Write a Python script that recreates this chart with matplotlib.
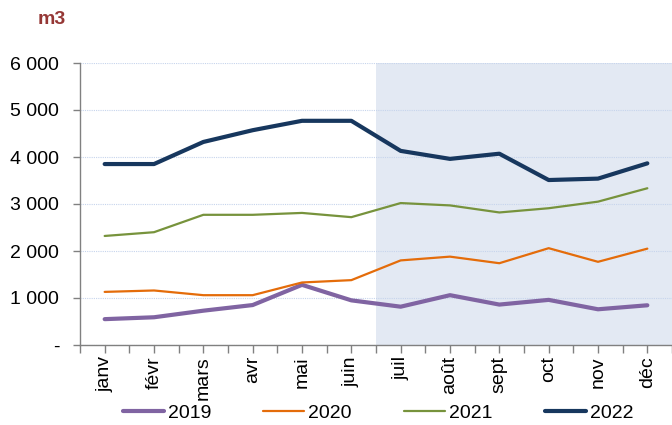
import matplotlib
matplotlib.use("Agg")
import matplotlib.pyplot as plt
from matplotlib.ticker import FixedLocator, FuncFormatter

months = ["janv", "févr", "mars", "avr", "mai", "juin", "juil", "août", "sept", "oct", "nov", "déc"]
years = ["2019", "2020", "2021", "2022"]
v2019 = [550, 590, 730, 850, 1280, 950, 815, 1060, 860, 960, 760, 845]
v2020 = [1130, 1160, 1060, 1060, 1330, 1380, 1800, 1880, 1740, 2060, 1770, 2050]
v2021 = [2320, 2400, 2770, 2770, 2810, 2720, 3020, 2970, 2820, 2910, 3050, 3335]
v2022 = [3850, 3850, 4320, 4570, 4770, 4770, 4130, 3960, 4070, 3510, 3540, 3865]
series = [v2019, v2020, v2021, v2022]
colors = ["#8064A2", "#E46C0A", "#77933C", "#17375E"]
widths = [3.0, 1.6, 1.6, 3.0]
yticks = [0, 1000, 2000, 3000, 4000, 5000, 6000]

plt.rcParams["font.family"] = ["Liberation Sans", "DejaVu Sans"]

fig = plt.figure(figsize=(6.72, 4.25), dpi=100)
ax = fig.add_axes([80 / 672, 1 - 345 / 425, 1 - 80 / 672, (345 - 63) / 425])

x = list(range(len(months)))
ax.axvspan(5.5, 11.5, color="#E3E9F3", zorder=0, lw=0)
for vals, c, w, lab in zip(series, colors, widths, years):
    ax.plot(x, vals, color=c, lw=w, label=lab, solid_capstyle="round", solid_joinstyle="round", zorder=3)

ax.set_xlim(-0.5, 11.5)
ax.set_ylim(0, 6000)
ax.yaxis.set_major_locator(FixedLocator(yticks))
ax.yaxis.set_major_formatter(FuncFormatter(lambda v, p: "-" if v == 0 else f"{int(v):,}".replace(",", " ")))
ax.grid(axis="y", color="#C6D4EC", linestyle=(0, (1, 1)), lw=0.8, zorder=1)
ax.set_axisbelow(True)

ax.set_xticks(x)
ax.set_xticklabels(months, rotation=90, fontsize=14)
ax.set_xticks([i - 0.5 for i in range(13)], minor=True)
ax.tick_params(axis="x", which="major", length=6, width=1, color="#808080", pad=2)
ax.tick_params(axis="x", which="minor", length=6, width=1, color="#808080")
ax.tick_params(axis="y", length=5, width=1, color="#808080", labelsize=14, pad=10)

for s in ["top", "right"]:
    ax.spines[s].set_visible(False)
for s in ["left", "bottom"]:
    ax.spines[s].set_color("#808080")
    ax.spines[s].set_linewidth(1)

fig.text(52 / 672, 1 - 20 / 425, "m3", color="#953735", fontsize=14, fontweight="bold", ha="center", va="center")

leg = fig.legend(loc="center", bbox_to_anchor=(378 / 672, 1 - 413 / 425), ncol=4, frameon=False,
                 fontsize=14, handlelength=2.1, handletextpad=0.2, columnspacing=2.7)

fig.savefig("out.png", dpi=100)
